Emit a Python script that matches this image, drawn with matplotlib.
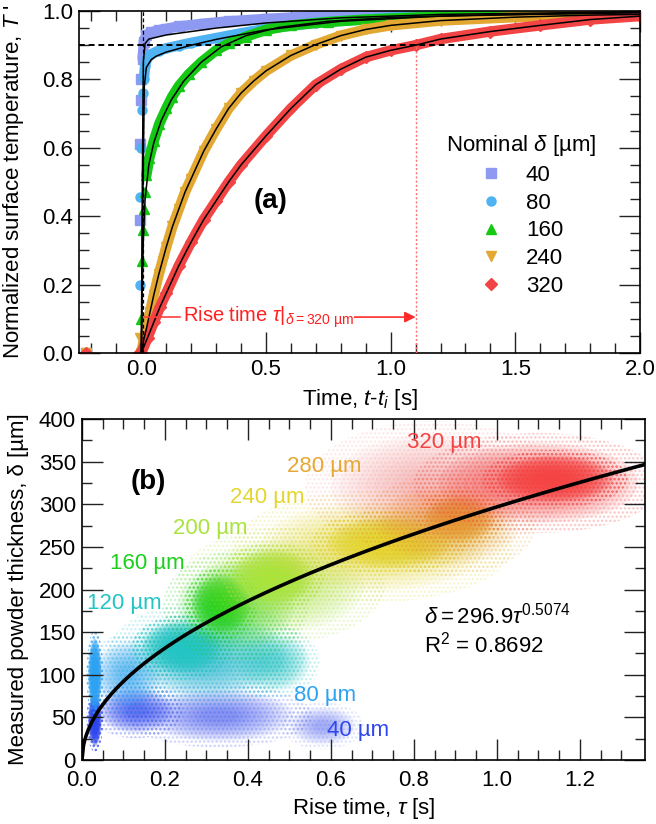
import numpy as np
import matplotlib
matplotlib.use("Agg")
import matplotlib.pyplot as plt
from matplotlib.patches import Ellipse
from matplotlib.lines import Line2D

plt.rcParams['font.family'] = ['Liberation Sans', 'DejaVu Sans']
plt.rcParams['mathtext.fontset'] = 'custom'
plt.rcParams['mathtext.rm'] = 'Liberation Sans'
plt.rcParams['mathtext.it'] = 'Liberation Sans:italic'
plt.rcParams['mathtext.bf'] = 'Liberation Sans:bold'
plt.rcParams['hatch.linewidth'] = 1.2

# ---------------- (a) normalized surface temperature transients ----------------
nominal_labels = ['40', '80', '160', '240', '320']

t_40 = [0.005, 0.01, 0.02, 0.04, 0.07, 0.1, 0.15, 0.25, 0.35, 0.5, 0.7, 1.0, 1.3, 1.6, 2.0]
T_40 = [0.86, 0.91, 0.93, 0.938, 0.944, 0.948, 0.955, 0.963, 0.97, 0.977, 0.985, 0.99, 0.994, 0.997, 0.999]
t_40_rise = [-0.22, -0.004, -0.004, -0.002, 0.0]
T_40_rise = [0.0, 0.39, 0.61, 0.74, 0.80]
fit_t_40 = [0.0, 0.004, 0.008, 0.015, 0.03, 0.1, 0.2, 0.3, 0.5, 0.8, 1.2, 2.0]
fit_T_40 = [0.0, 0.5, 0.85, 0.905, 0.918, 0.93, 0.94, 0.95, 0.965, 0.98, 0.99, 0.998]

t_80 = [0.01, 0.015, 0.02, 0.04, 0.07, 0.1, 0.15, 0.2, 0.3, 0.4, 0.5, 0.7, 1.0, 1.4, 2.0]
T_80 = [0.80, 0.84, 0.858, 0.874, 0.884, 0.891, 0.899, 0.907, 0.921, 0.935, 0.948, 0.966, 0.981, 0.99, 0.996]
t_80_rise = [-0.22, -0.006, -0.004, -0.002, 0.002, 0.006]
T_80_rise = [0.0, 0.2, 0.455, 0.6, 0.71, 0.76]
fit_t_80 = [0.0, 0.006, 0.012, 0.02, 0.04, 0.06, 0.1, 0.2, 0.3, 0.5, 0.8, 1.2, 2.0]
fit_T_80 = [0.0, 0.45, 0.78, 0.835, 0.858, 0.868, 0.88, 0.9, 0.917, 0.945, 0.97, 0.985, 0.996]

t_160 = [0.02, 0.032, 0.05, 0.072, 0.1, 0.124, 0.15, 0.19, 0.24, 0.3, 0.35, 0.42, 0.5, 0.6, 0.75, 0.9, 1.1, 1.4, 1.7, 2.0]
T_160 = [0.52, 0.57, 0.62, 0.67, 0.715, 0.75, 0.78, 0.815, 0.85, 0.885, 0.905, 0.925, 0.945, 0.958, 0.968, 0.975, 0.981, 0.987, 0.991, 0.994]
t_160_rise = [-0.22, 0.0, 0.004, 0.006, 0.01, 0.014]
T_160_rise = [0.0, 0.1, 0.27, 0.36, 0.42, 0.47]
fit_t_160 = [0.0, 0.003, 0.008, 0.015, 0.03, 0.05, 0.08, 0.12, 0.17, 0.24, 0.32, 0.42, 0.55, 0.75, 1.0, 1.4, 2.0]
fit_T_160 = [0.0, 0.15, 0.33, 0.45, 0.55, 0.615, 0.68, 0.74, 0.795, 0.85, 0.895, 0.928, 0.952, 0.97, 0.981, 0.989, 0.995]

t_240 = [0.0, 0.01, 0.02, 0.035, 0.05, 0.07, 0.085, 0.1, 0.125, 0.15, 0.175, 0.2, 0.25, 0.3, 0.35, 0.4,
         0.45, 0.5, 0.6, 0.7, 0.8, 0.9, 1.0, 1.2, 1.5, 1.8, 2.0]
T_240 = [0.0, 0.04, 0.07, 0.12, 0.17, 0.23, 0.27, 0.31, 0.37, 0.42, 0.47, 0.51, 0.59, 0.655, 0.715, 0.76,
         0.795, 0.825, 0.87, 0.902, 0.928, 0.946, 0.958, 0.972, 0.982, 0.988, 0.99]
t_240_rise = [-0.22, -0.005]
T_240_rise = [0.0, 0.045]

t_320 = [0.0, 0.025, 0.05, 0.075, 0.1, 0.15, 0.2, 0.25, 0.3, 0.35, 0.4, 0.5, 0.6, 0.7, 0.8, 0.9,
         1.0, 1.1, 1.2, 1.4, 1.6, 1.8, 2.0]
T_320 = [0.0, 0.045, 0.09, 0.135, 0.175, 0.255, 0.325, 0.39, 0.445, 0.5, 0.55, 0.635, 0.715, 0.785, 0.83, 0.865,
         0.885, 0.9, 0.918, 0.94, 0.958, 0.975, 0.985]
t_320_rise = [-0.22, -0.01]
T_320_rise = [0.0, 0.0]

threshold_T = 0.9
rise_time_320 = 1.1

# ---------------- (b) measured thickness vs rise time ----------------
cloud_labels = ['40 µm', '80 µm', '120 µm', '160 µm', '200 µm', '240 µm', '280 µm', '320 µm']

# cloud regions: centre (tau, delta), half extent (dtau, ddelta), relative point density
cloud_tau_40 = [0.031, 0.13, 0.33, 0.58]
cloud_delta_40 = [47, 58, 52, 40]
cloud_dtau_40 = [0.016, 0.09, 0.18, 0.08]
cloud_ddelta_40 = [30, 26, 30, 22]
cloud_dens_40 = [2.2, 0.6, 0.4, 0.25]

cloud_tau_80 = [0.031, 0.11, 0.30]
cloud_delta_80 = [100, 100, 110]
cloud_dtau_80 = [0.016, 0.08, 0.15]
cloud_ddelta_80 = [42, 38, 42]
cloud_dens_80 = [2.2, 0.5, 0.25]

cloud_tau_120 = [0.24, 0.30, 0.46]
cloud_delta_120 = [132, 125, 115]
cloud_dtau_120 = [0.095, 0.19, 0.09]
cloud_ddelta_120 = [30, 48, 34]
cloud_dens_120 = [1.1, 0.4, 0.45]

cloud_tau_160 = [0.335, 0.37]
cloud_delta_160 = [183, 180]
cloud_dtau_160 = [0.07, 0.14]
cloud_ddelta_160 = [34, 52]
cloud_dens_160 = [1.1, 0.4]

cloud_tau_200 = [0.46, 0.48]
cloud_delta_200 = [215, 205]
cloud_dtau_200 = [0.1, 0.2]
cloud_ddelta_200 = [32, 54]
cloud_dens_200 = [1.1, 0.4]

cloud_tau_240 = [0.74, 0.70]
cloud_delta_240 = [255, 250]
cloud_dtau_240 = [0.15, 0.27]
cloud_ddelta_240 = [30, 52]
cloud_dens_240 = [1.1, 0.4]

cloud_tau_280 = [0.91, 0.88]
cloud_delta_280 = [283, 275]
cloud_dtau_280 = [0.085, 0.17]
cloud_ddelta_280 = [27, 47]
cloud_dens_280 = [1.1, 0.4]

cloud_tau_320 = [1.14, 1.10, 0.85]
cloud_delta_320 = [330, 325, 320]
cloud_dtau_320 = [0.14, 0.24, 0.25]
cloud_ddelta_320 = [27, 47, 62]
cloud_dens_320 = [1.1, 0.5, 0.2]

label_tau = [0.665, 0.585, 0.101, 0.157, 0.308, 0.446, 0.585, 0.872]
label_delta = [35, 76, 183, 230, 271, 308, 344, 372]

fit_coef = 296.9
fit_exp = 0.5074
fit_r2 = 0.8692

# ---------------- figure ----------------
fig = plt.figure(figsize=(6.56, 8.24), dpi=100)
W, H = 656, 824
ax1 = fig.add_axes([79 / W, 1 - 353 / H, (640 - 79) / W, (353 - 11) / H])
ax2 = fig.add_axes([82 / W, 1 - 760 / H, (645 - 82) / W, (760 - 419) / H])


def style_axes(ax, xpad=4.5):
    ax.tick_params(which='both', direction='in', top=True, right=True,
                   labelsize=16, width=1.0, color='#222222', pad=4.5)
    ax.tick_params(axis='x', which='both', pad=xpad)
    ax.tick_params(which='major', length=15)
    ax.tick_params(which='minor', length=7.5)
    for s in ax.spines.values():
        s.set_linewidth(1.2)


# panel (a)
colors_a = ['#8e9af2', '#4fb2f2', '#14c814', '#e2a832', '#f24444']
markers_a = ['s', 'o', '^', 'v', 'D']
band_t = [t_40, t_80, t_160, t_240, t_320]
band_T = [T_40, T_80, T_160, T_240, T_320]
rise_t = [t_40_rise, t_80_rise, t_160_rise, t_240_rise, t_320_rise]
rise_T = [T_40_rise, T_80_rise, T_160_rise, T_240_rise, T_320_rise]
fit_t = [fit_t_40, fit_t_80, fit_t_160, t_240, t_320]
fit_T = [fit_T_40, fit_T_80, fit_T_160, T_240, T_320]

for c, m, bt, bT, rt, rT in zip(colors_a, markers_a, band_t, band_T, rise_t, rise_T):
    ax1.plot(bt, bT, color=c, lw=7.5, solid_capstyle='round', zorder=2)
    ax1.plot(bt, bT, ls='none', marker=m, ms=6.5, color=c, zorder=2)
    ax1.plot(rt, rT, ls='none', marker=m, ms=6.5, color=c, zorder=2)
for ft, fT in zip(fit_t, fit_T):
    ax1.plot(ft, fT, color='k', lw=1.1, zorder=3)

ax1.axhline(threshold_T, color='k', lw=1.4, ls=(0, (3, 2)), zorder=4)
ax1.axvline(0.005, color='k', lw=0.9, ls=(0, (3, 2)), zorder=4)
ax1.plot([rise_time_320, rise_time_320], [0, threshold_T], color='#ff7070', lw=1.0,
         ls=(0, (1.5, 1.5)), zorder=4)

arrow_T = 0.105
ax1.plot([0.012, 0.155], [arrow_T, arrow_T], color='#ff4040', lw=1.2, zorder=4)
ax1.annotate('', xy=(rise_time_320, arrow_T), xytext=(0.855, arrow_T),
             arrowprops=dict(arrowstyle='-|>', color='#ff2a2a', lw=1.2,
                             mutation_scale=16, shrinkA=0, shrinkB=0), zorder=4)
ax1.text(0.168, arrow_T, r'Rise time $\tau|_{\delta=320\ \mathrm{µm}}$', color='#ff2020',
         fontsize=14.5, ha='left', va='center', zorder=5)
ax1.text(0.52, 0.445, '(a)', fontsize=20, fontweight='bold', ha='center', va='center')

handles = [Line2D([], [], ls='none', marker=m, ms=6.5, color=c) for m, c in zip(markers_a, colors_a)]
leg = ax1.legend(handles, nominal_labels, title=r'Nominal $\delta$ [µm]', loc='upper left',
                 bbox_to_anchor=(0.655, 0.642), frameon=False, fontsize=16, title_fontsize=16,
                 handlelength=1.0, handletextpad=1.05, labelspacing=0.30, borderpad=0,
                 borderaxespad=0)

ax1.set_xlim(-0.25, 2.0)
ax1.set_ylim(0.0, 1.0)
ax1.set_xticks([0.0, 0.5, 1.0, 1.5, 2.0])
ax1.set_xticks(np.arange(-0.2, 2.0, 0.1), minor=True)
ax1.set_yticks([0.0, 0.2, 0.4, 0.6, 0.8, 1.0])
ax1.set_yticks(np.arange(0.05, 1.0, 0.05), minor=True)
ax1.xaxis.set_major_formatter(plt.FormatStrFormatter('%.1f'))
ax1.yaxis.set_major_formatter(plt.FormatStrFormatter('%.1f'))
style_axes(ax1)
ax1.set_xlabel(r'Time, $t$-$t_i$ [s]', fontsize=16, labelpad=5)
ax1.set_ylabel("Normalized surface temperature, $T$ '", fontsize=16)
ax1.yaxis.set_label_coords(-0.095, 0.5)

# panel (b)
colors_b = ['#2e46ee', '#2ea2f2', '#22c4c4', '#1ad01a', '#a8e43c', '#e4d62e', '#e6a834', '#f44444']
clouds = [
    (cloud_tau_40, cloud_delta_40, cloud_dtau_40, cloud_ddelta_40, cloud_dens_40),
    (cloud_tau_80, cloud_delta_80, cloud_dtau_80, cloud_ddelta_80, cloud_dens_80),
    (cloud_tau_120, cloud_delta_120, cloud_dtau_120, cloud_ddelta_120, cloud_dens_120),
    (cloud_tau_160, cloud_delta_160, cloud_dtau_160, cloud_ddelta_160, cloud_dens_160),
    (cloud_tau_200, cloud_delta_200, cloud_dtau_200, cloud_ddelta_200, cloud_dens_200),
    (cloud_tau_240, cloud_delta_240, cloud_dtau_240, cloud_ddelta_240, cloud_dens_240),
    (cloud_tau_280, cloud_delta_280, cloud_dtau_280, cloud_ddelta_280, cloud_dens_280),
    (cloud_tau_320, cloud_delta_320, cloud_dtau_320, cloud_ddelta_320, cloud_dens_320),
]
# each cloud region: a dotted rim plus concentric translucent ellipses toward a dense core
shells = np.linspace(1.0, 0.25, 10)
for col, (tc, dc, dt, dd, dens) in zip(colors_b, clouds):
    for x0, y0, a, b, d in zip(tc, dc, dt, dd, dens):
        ax2.add_patch(Ellipse((x0, y0), 2.5 * a, 2.5 * b, facecolor='none', edgecolor=col,
                              lw=0, hatch='....', alpha=min(0.55 * d, 0.8), zorder=1))
        for s in shells:
            ax2.add_patch(Ellipse((x0, y0), 2 * a * s, 2 * b * s, facecolor=col,
                                  edgecolor='none', alpha=min(0.2 * d, 0.6), zorder=1))

tau_line = np.linspace(0.0, 1.36, 400)
ax2.plot(tau_line, fit_coef * tau_line ** fit_exp, color='k', lw=2.6, zorder=3)

for lab, col, x, y in zip(cloud_labels, colors_b, label_tau, label_delta):
    ax2.text(x, y, lab, color=col, fontsize=16, ha='center', va='center', zorder=4)
ax2.text(0.824, 170, r'$\delta = %.1f\tau^{%.4f}$' % (fit_coef, fit_exp), fontsize=16,
         ha='left', va='center', zorder=4)
ax2.text(0.824, 135, r'R$^2$ = %.4f' % fit_r2, fontsize=16, ha='left', va='center', zorder=4)
ax2.text(0.159, 326, '(b)', fontsize=20, fontweight='bold', ha='center', va='center')

ax2.set_xlim(0.0, 1.357)
ax2.set_ylim(0, 400)
ax2.set_xticks([0.0, 0.2, 0.4, 0.6, 0.8, 1.0, 1.2])
ax2.set_xticks(np.arange(0.05, 1.35, 0.05), minor=True)
ax2.set_yticks(np.arange(0, 401, 50))
ax2.set_yticks(np.arange(25, 400, 50), minor=True)
ax2.xaxis.set_major_formatter(plt.FormatStrFormatter('%.1f'))
style_axes(ax2, xpad=7.5)
ax2.set_xlabel(r'Rise time, $\tau$ [s]', fontsize=16, labelpad=3)
ax2.set_ylabel('Measured powder thickness, δ [µm]', fontsize=16)
ax2.yaxis.set_label_coords(-0.095, 0.5)

fig.savefig('out.png', dpi=100)
